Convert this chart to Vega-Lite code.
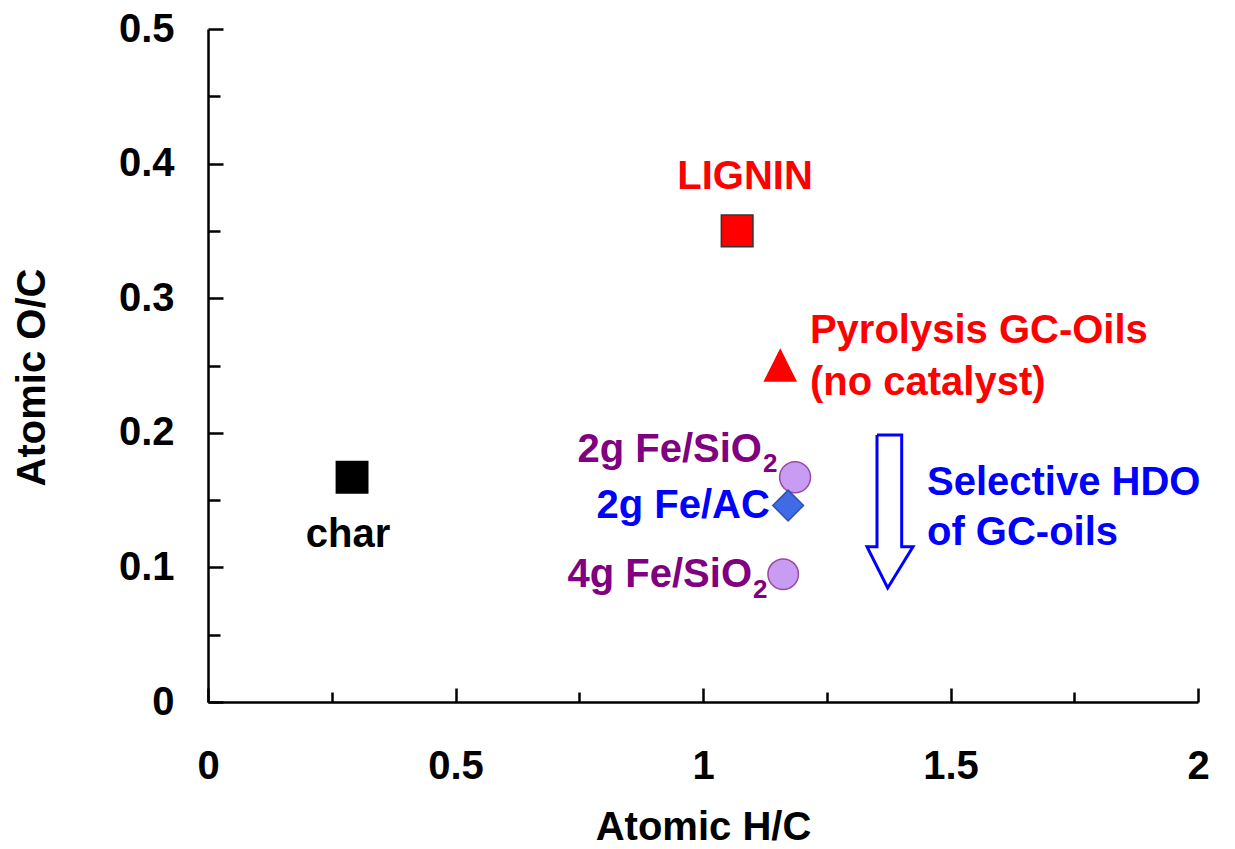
{
  "$schema": "https://vega.github.io/schema/vega-lite/v6.json",
  "autosize": {"type": "none"},
  "padding": {"left": 208, "top": 29, "right": 37, "bottom": 147},
  "width": 990,
  "height": 673,
  "background": "white",
  "config": {
    "view": {"stroke": null},
    "font": "Liberation Sans",
    "axis": {
      "grid": false,
      "domainColor": "#000000",
      "domainWidth": 2.5,
      "tickColor": "#000000",
      "tickWidth": 2.5,
      "labelFont": "Liberation Sans",
      "labelFontSize": 40,
      "labelFontWeight": "bold",
      "labelColor": "#000000",
      "titleFont": "Liberation Sans",
      "titleFontSize": 40,
      "titleFontWeight": "bold",
      "titleColor": "#000000",
      "labelFlush": false,
      "labelOverlap": false
    }
  },
  "layer": [
    {
      "data": {"values": [
        {"step": 1, "hc": 1.3515, "oc": 0.1984},
        {"step": 2, "hc": 1.4014, "oc": 0.1984},
        {"step": 3, "hc": 1.4014, "oc": 0.1154},
        {"step": 4, "hc": 1.4242, "oc": 0.1154},
        {"step": 5, "hc": 1.3731, "oc": 0.0847},
        {"step": 6, "hc": 1.3313, "oc": 0.1154},
        {"step": 7, "hc": 1.3515, "oc": 0.1154},
        {"step": 8, "hc": 1.3515, "oc": 0.1984}
      ]},
      "mark": {"type": "line", "color": "#0000ff", "strokeWidth": 3, "strokeJoin": "miter"},
      "encoding": {
        "x": {
          "field": "hc", "type": "quantitative",
          "scale": {"domain": [0, 2], "nice": false, "zero": true},
          "axis": {
            "title": "Atomic H/C",
            "values": [0, 0.25, 0.5, 0.75, 1, 1.25, 1.5, 1.75, 2],
            "format": "~g",
            "labelExpr": "round(datum.value*100) % 50 === 0 ? datum.label : ''",
            "tickSize": {"condition": {"test": "round(datum.value*100) % 50 !== 0", "value": -10}, "value": -14},
            "labelPadding": 58,
            "titlePadding": 17
          }
        },
        "y": {
          "field": "oc", "type": "quantitative",
          "scale": {"domain": [0, 0.5], "nice": false, "zero": true},
          "axis": {
            "title": "Atomic O/C",
            "values": [0, 0.05, 0.1, 0.15, 0.2, 0.25, 0.3, 0.35, 0.4, 0.45, 0.5],
            "format": "~g",
            "labelExpr": "round(datum.value*100) % 10 === 0 ? datum.label : ''",
            "tickSize": {"condition": {"test": "round(datum.value*100) % 10 !== 0", "value": -12}, "value": -15},
            "labelPadding": 49,
            "titlePadding": 66,
            "titleY": 348
          }
        },
        "order": {"field": "step", "type": "quantitative"}
      }
    },
    {
      "data": {"values": [
        {"name": "LIGNIN", "hc": 1.069, "oc": 0.35},
        {"name": "char", "hc": 0.291, "oc": 0.167},
        {"name": "Pyrolysis GC-Oils", "hc": 1.156, "oc": 0.25},
        {"name": "2g Fe/SiO2", "hc": 1.186, "oc": 0.167},
        {"name": "2g Fe/AC", "hc": 1.172, "oc": 0.146},
        {"name": "4g Fe/SiO2", "hc": 1.162, "oc": 0.095}
      ]},
      "mark": {"type": "point", "filled": true, "opacity": 1, "strokeWidth": 1.5},
      "encoding": {
        "x": {"field": "hc", "type": "quantitative"},
        "y": {"field": "oc", "type": "quantitative"},
        "shape": {
          "field": "name", "type": "nominal", "legend": null,
          "scale": {
            "domain": ["LIGNIN", "char", "Pyrolysis GC-Oils", "2g Fe/SiO2", "2g Fe/AC", "4g Fe/SiO2"],
            "range": ["square", "square", "M0,-1L1,1L-1,1Z", "circle", "diamond", "circle"]
          }
        },
        "size": {
          "field": "name", "type": "nominal", "legend": null,
          "scale": {
            "domain": ["LIGNIN", "char", "Pyrolysis GC-Oils", "2g Fe/SiO2", "2g Fe/AC", "4g Fe/SiO2"],
            "range": [1000, 930, 729, 800, 960, 790]
          }
        },
        "fill": {
          "field": "name", "type": "nominal", "legend": null,
          "scale": {
            "domain": ["LIGNIN", "char", "Pyrolysis GC-Oils", "2g Fe/SiO2", "2g Fe/AC", "4g Fe/SiO2"],
            "range": ["#ff0000", "#000000", "#ff0000", "#c99cf3", "#3f6be6", "#c99cf3"]
          }
        },
        "stroke": {
          "field": "name", "type": "nominal", "legend": null,
          "scale": {
            "domain": ["LIGNIN", "char", "Pyrolysis GC-Oils", "2g Fe/SiO2", "2g Fe/AC", "4g Fe/SiO2"],
            "range": ["#333333", "#000000", "#ff0000", "#9a4a9e", "#2c4fb8", "#9a4a9e"]
          }
        }
      }
    },
    {
      "data": {"values": [
        {"label": "LIGNIN", "group": "lignin", "hc": 1.085, "oc": 0.381},
        {"label": "char", "group": "char", "hc": 0.283, "oc": 0.1152}
      ]},
      "mark": {"type": "text", "align": "center", "baseline": "alphabetic", "fontSize": 40, "fontWeight": "bold", "font": "Liberation Sans"},
      "encoding": {
        "x": {"field": "hc", "type": "quantitative"},
        "y": {"field": "oc", "type": "quantitative"},
        "text": {"field": "label"},
        "color": {
          "field": "group", "type": "nominal", "legend": null,
          "scale": {"domain": ["lignin", "oil", "fesio2", "feac", "char", "hdo"], "range": ["#ff0000", "#ff0000", "#800080", "#0000ff", "#000000", "#0000ff"]}
        }
      }
    },
    {
      "data": {"values": [
        {"label": "Pyrolysis GC-Oils", "group": "oil", "hc": 1.216, "oc": 0.2667},
        {"label": "(no catalyst)", "group": "oil", "hc": 1.216, "oc": 0.2281},
        {"label": "Selective HDO", "group": "hdo", "hc": 1.4525, "oc": 0.1538},
        {"label": "of GC-oils", "group": "hdo", "hc": 1.4525, "oc": 0.1166}
      ]},
      "mark": {"type": "text", "align": "left", "baseline": "alphabetic", "fontSize": 40, "fontWeight": "bold", "font": "Liberation Sans"},
      "encoding": {
        "x": {"field": "hc", "type": "quantitative"},
        "y": {"field": "oc", "type": "quantitative"},
        "text": {"field": "label"},
        "color": {
          "field": "group", "type": "nominal", "legend": null,
          "scale": {"domain": ["lignin", "oil", "fesio2", "feac", "char", "hdo"], "range": ["#ff0000", "#ff0000", "#800080", "#0000ff", "#000000", "#0000ff"]}
        }
      }
    },
    {
      "data": {"values": [
        {"label": "2g Fe/SiO", "group": "fesio2", "hc": 1.119, "oc": 0.1783},
        {"label": "2g Fe/AC", "group": "feac", "hc": 1.135, "oc": 0.1367},
        {"label": "4g Fe/SiO", "group": "fesio2", "hc": 1.099, "oc": 0.0854}
      ]},
      "mark": {"type": "text", "align": "right", "baseline": "alphabetic", "fontSize": 40, "fontWeight": "bold", "font": "Liberation Sans"},
      "encoding": {
        "x": {"field": "hc", "type": "quantitative"},
        "y": {"field": "oc", "type": "quantitative"},
        "text": {"field": "label"},
        "color": {
          "field": "group", "type": "nominal", "legend": null,
          "scale": {"domain": ["lignin", "oil", "fesio2", "feac", "char", "hdo"], "range": ["#ff0000", "#ff0000", "#800080", "#0000ff", "#000000", "#0000ff"]}
        }
      }
    },
    {
      "data": {"values": [
        {"label": "2", "group": "fesio2", "hc": 1.121, "oc": 0.171},
        {"label": "2", "group": "fesio2", "hc": 1.101, "oc": 0.0773}
      ]},
      "mark": {"type": "text", "align": "left", "baseline": "alphabetic", "fontSize": 26, "fontWeight": "bold", "font": "Liberation Sans"},
      "encoding": {
        "x": {"field": "hc", "type": "quantitative"},
        "y": {"field": "oc", "type": "quantitative"},
        "text": {"field": "label"},
        "color": {
          "field": "group", "type": "nominal", "legend": null,
          "scale": {"domain": ["lignin", "oil", "fesio2", "feac", "char", "hdo"], "range": ["#ff0000", "#ff0000", "#800080", "#0000ff", "#000000", "#0000ff"]}
        }
      }
    }
  ]
}
